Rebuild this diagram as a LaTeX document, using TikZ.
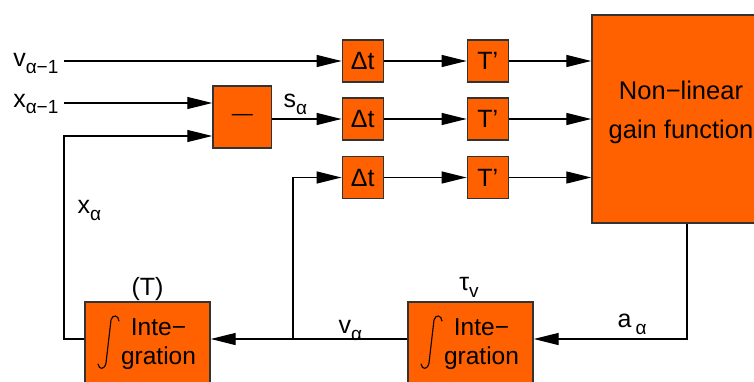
\documentclass[tikz,border=0pt]{standalone}
\usepackage{fontspec}
\setmainfont{Liberation Sans}
\usetikzlibrary{arrows.meta}
\definecolor{blockorange}{RGB}{255,96,0}
\newcommand{\subidx}[1]{\raisebox{-0.28em}{\fontsize{19}{19}\selectfont #1}}

\begin{document}
\begin{tikzpicture}[x=1pt, y=1pt, line width=1.2pt,
  font=\fontsize{25}{28}\selectfont,
  block/.style={draw=black!80, line width=1.4pt, fill=blockorange, inner sep=0pt},
  small/.style={block, minimum width=41pt, minimum height=42pt},
  integ/.style={block, minimum width=125pt, minimum height=84pt, font=\fontsize{24.5}{29}\selectfont},
  arr/.style={-{Triangle[length=25pt, width=12pt]}},
  lbl/.style={inner sep=0pt}]
  \useasboundingbox (0,0) rectangle (754,381);
  \clip (0,0) rectangle (754,381);
  \node[small] (dt1) at (362.8,320) {Δt};
  \node[small] (dt2) at (362.8,262) {Δt};
  \node[small] (dt3) at (362.8,203.5) {Δt};
  \node[small] (tp1) at (487.8,320) {T’};
  \node[small] (tp2) at (487.8,262) {T’};
  \node[small] (tp3) at (487.8,203.5) {T’};
  \node[block, minimum width=184pt, minimum height=208pt] (gain) at (684,262) {};
  \node[lbl, align=center, font=\fontsize{25.5}{39}\selectfont] (gainlbl) at (681,269) {Non−linear\\gain function};
  \node[block, minimum width=58.7pt, minimum height=62pt, font=\fontsize{21}{21}\selectfont] (minus) at (242.3,264) {—};
  \node[integ] (int1) at (147.5,37) {\hspace{22pt}\begin{tabular}{@{}c@{}}Inte−\\gration\end{tabular}};
  \node[integ] (int2) at (470.5,37) {\hspace{22pt}\begin{tabular}{@{}c@{}}Inte−\\gration\end{tabular}};
  \foreach \b in {int1,int2} {
    \begin{scope}[shift={(\b.center)}]
      \draw[line width=1.1pt, line cap=round] (-28.5,23) .. controls (-29,29) and (-35,30) .. (-36.5,24)
        -- (-41.5,-19) .. controls (-43,-26) and (-48.5,-26) .. (-49.5,-20);
    \end{scope}
  }
  \coordinate (vin) at (64,320);
  \coordinate (xin) at (64,278);
  \coordinate (xfb) at (64,245);
  \coordinate (branch) at (293,42);
  \coordinate (aout) at (687,42);
  \node[lbl, anchor=base east] (vlbl) at (59,314.3) {v\subidx{α−1}};
  \node[lbl, anchor=base east] (xlbl) at (59,274) {x\subidx{α−1}};
  \node[lbl, anchor=base west] (slbl) at (283,273.7) {s\subidx{α}};
  \node[lbl, anchor=base west] (xalbl) at (77,168) {x\subidx{α}};
  \node[lbl, anchor=base west] (valbl) at (338,48) {v\subidx{α}};
  \node[lbl, anchor=base west] (aalbl) at (617,54) {a\,\subidx{α}};
  \node[lbl, anchor=base] (tlbl) at (147.5,86) {(T)};
  \node[lbl, anchor=base] (taulbl) at (469,91) {τ\subidx{v}};
  \draw[arr] (vin) -- (dt1);
  \draw[arr] (xin) -- (xin -| minus.west);
  \draw[arr] (minus.east |- dt2) -- (dt2);
  \foreach \i in {1,2,3} {
    \draw[arr] (dt\i) -- (tp\i);
    \draw[arr] (tp\i) -- (tp\i -| gain.west);
  }
  \draw[arr] (aout |- gain.south) -- (aout) -- (aout -| int2.east);
  \draw (int2.west |- branch) -- (branch);
  \draw[arr] (branch) -- (branch -| int1.east);
  \draw[arr] (branch) |- (dt3);
  \draw[arr] (int1.west |- branch) -| (xfb) -- (xfb -| minus.west);
\end{tikzpicture}
\end{document}
